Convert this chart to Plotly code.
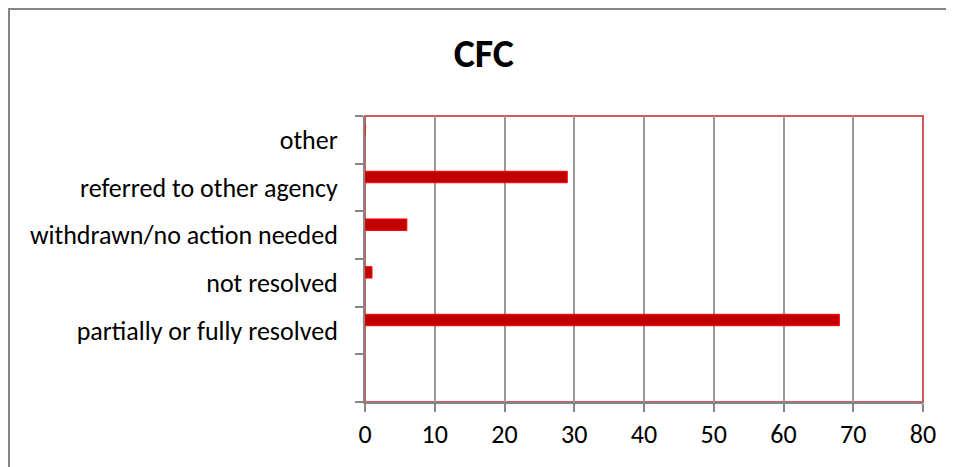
import plotly.graph_objects as go

# categories listed bottom to top (first slot is an empty category in the source chart)
categories = ["", "partially or fully resolved", "not resolved",
              "withdrawn/no action needed", "referred to other agency", "other"]
counts = [None, 68, 1, 6, 29, 0]
x_ticks = [0, 10, 20, 30, 40, 50, 60, 70, 80]

positions = list(range(len(categories)))
FONT = "Carlito, Lato, sans-serif"

fig = go.Figure()
fig.add_trace(go.Bar(
    x=counts, y=positions, orientation="h",
    width=0.24, offset=0.10,
    marker=dict(color="#C00000", line=dict(color="#FF0000", width=1)),
    showlegend=False,
))

# plot area border (red) and outer chart frame (grey)
fig.add_shape(type="rect", xref="paper", yref="paper", x0=0, y0=0, x1=1, y1=1,
              line=dict(color="#D05A5A", width=2), layer="below")
fig.add_shape(type="rect", xref="paper", yref="paper",
              x0=-0.638, y0=-1, x1=2, y1=1.374,
              line=dict(color="#868686", width=2), layer="below")

fig.update_layout(
    width=946, height=459,
    margin=dict(l=357, r=31, t=108, b=65),
    paper_bgcolor="white", plot_bgcolor="white",
    font=dict(family=FONT, size=26, color="black"),
    title=dict(text="<b>CFC</b>", x=0.503, xanchor="center",
               y=0.903, yanchor="middle",
               font=dict(family=FONT, size=40, color="black")),
    xaxis=dict(range=[0, 80], tickvals=x_ticks, showgrid=True,
               gridcolor="#999999", gridwidth=2,
               showline=True, linecolor="#868686", linewidth=2,
               ticks="outside", ticklen=8, tickcolor="#868686", tickwidth=2,
               tickfont=dict(size=26),
               zeroline=False, fixedrange=True),
    yaxis=dict(range=[-0.5, 5.5], tickvals=positions, ticktext=categories,
               showgrid=False, zeroline=False,
               showline=True, linecolor="#868686", linewidth=2,
               ticks="", ticklabelstandoff=20, tickfont=dict(size=26),
               minor=dict(tickvals=[p - 0.5 for p in positions] + [5.5],
                          ticks="outside", ticklen=8, tickcolor="#868686",
                          tickwidth=2, showgrid=False)),
)

fig.write_html("out.html")
